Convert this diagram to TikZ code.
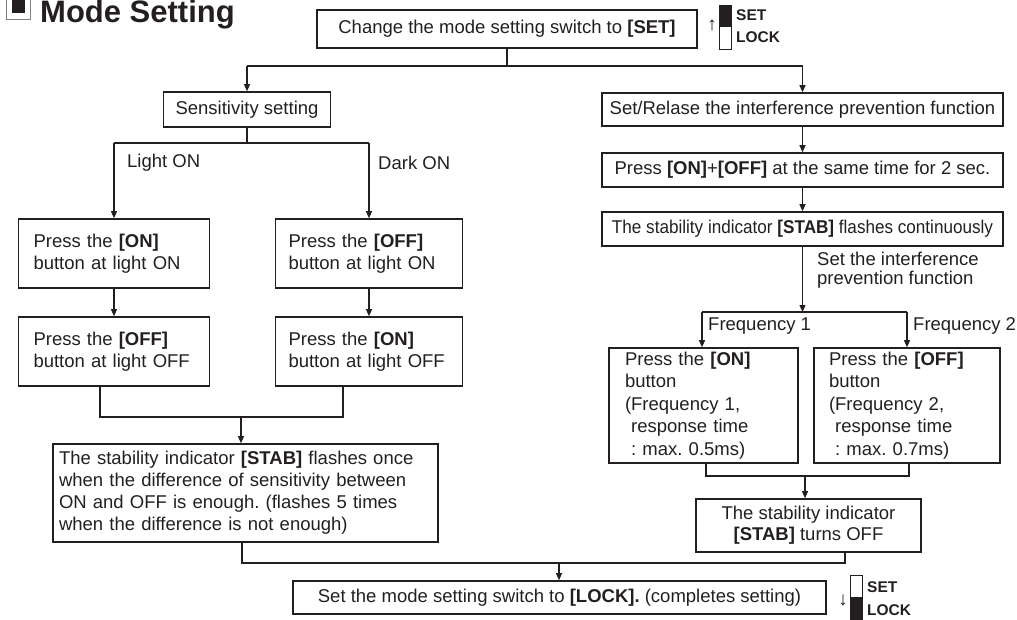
\documentclass[tikz,border=0pt]{standalone}
\usepackage{fontspec}
\setmainfont{Liberation Sans}
\usetikzlibrary{arrows.meta}
\definecolor{ink}{HTML}{231F20}
\newcommand\mainfs{\fontsize{18.5}{22.5}\selectfont\frenchspacing}
\begin{document}
\begin{tikzpicture}[x=1pt,y=-1pt,
  box/.style={draw=ink,line width=1.6pt,inner sep=0pt,font=\mainfs,text=ink,align=center},
  lbox/.style={draw=ink,line width=1.6pt,inner ysep=0pt,font=\mainfs,text=ink,align=left},
  lbl/.style={inner sep=0pt,anchor=west,font=\mainfs,text=ink},
  ln/.style={draw=ink,line width=1.1pt},
  arr/.style={draw=ink,line width=1.1pt,-{Triangle[length=7pt,width=6pt]}},
  sw/.style={inner sep=0pt,anchor=west,font=\bfseries\fontsize{15.5}{15.5}\selectfont,text=ink}]
\useasboundingbox (0,0) rectangle (1017,620);
\clip (0,0) rectangle (1017,620);

% title
\draw[draw=gray,line width=0.9pt] (6,-6) rectangle (30,19);
\fill[ink] (12,-1) rectangle (25,13);
\node[inner sep=0pt,anchor=base west,font=\bfseries\fontsize{31}{31}\selectfont,text=ink] (title) at (40,23) {Mode Setting};

% top switch
\node[box,minimum width=380pt,minimum height=38pt] (top) at (507,29) {Change the mode setting switch to \textbf{[SET]}};
\node[inner sep=0pt,font=\fontsize{19}{19}\selectfont,text=ink] (uparr) at (712,25) {↑};
\draw[ink,line width=0.9pt] (719,5) rectangle (731,49);
\fill[ink] (719,5) rectangle (731,27);
\node[sw] (set1) at (736,15) {SET};
\node[sw] (lock1) at (736,37) {LOCK};

% left branch
\node[box,minimum width=167pt,minimum height=35pt] (sens) at (247,109.5) {Sensitivity setting};
\node[lbl] (lighton) at (127,163) {Light ON};
\node[lbl] (darkon) at (378,163) {Dark ON};
\node[lbox,text width=161pt,inner xsep=15pt,minimum height=69pt] (lon1) at (114,253.5) {Press the \textbf{[ON]}\\button at light ON};
\node[lbox,text width=161pt,inner xsep=13pt,minimum height=69pt] (don1) at (369,253.5) {Press the \textbf{[OFF]}\\button at light ON};
\node[lbox,text width=161pt,inner xsep=15pt,minimum height=69pt] (lon2) at (114,351.5) {Press the \textbf{[OFF]}\\button at light OFF};
\node[lbox,text width=161pt,inner xsep=13pt,minimum height=69pt] (don2) at (369,351.5) {Press the \textbf{[ON]}\\button at light OFF};
\node[lbox,text width=373pt,inner xsep=6pt,minimum height=98pt,font=\fontsize{18.5}{22}\selectfont\frenchspacing] (stabL) at (245.5,493) {The stability indicator \textbf{[STAB]} flashes once\\when the difference of sensitivity between\\ON and OFF is enough. (flashes 5 times\\when the difference is not enough)};

% right branch
\node[box,minimum width=401pt,minimum height=33pt] (r1) at (802.5,109.5) {Set/Relase the interference prevention function};
\node[box,minimum width=401pt,minimum height=34pt] (r2) at (802.5,170) {Press \textbf{[ON]}+\textbf{[OFF]} at the same time for 2 sec.};
\node[box,minimum width=401pt,minimum height=34pt] (r3) at (802.5,229) {\scalebox{0.925}[1]{The stability indicator \textbf{[STAB]} flashes continuously}};
\node[lbl,align=left,font=\fontsize{18.5}{18.7}\selectfont] (setif) at (817,270) {Set the interference\\prevention function};
\node[lbl] (freq1) at (708,326) {Frequency 1};
\node[lbl] (freq2) at (913,326) {Frequency 2};
\node[lbox,text width=157pt,inner xsep=16pt,minimum height=115pt] (f1) at (703.5,405.5) {Press the \textbf{[ON]}\\button\\(Frequency 1,\\~response time\\~: max. 0.5ms)};
\node[lbox,text width=156pt,inner xsep=15pt,minimum height=115pt] (f2) at (907,405.5) {Press the \textbf{[OFF]}\\button\\(Frequency 2,\\~response time\\~: max. 0.7ms)};
\node[box,minimum width=225pt,minimum height=53pt,font=\fontsize{18.5}{21}\selectfont] (stabR) at (808.5,525.5) {The stability indicator\\\textbf{[STAB]} turns OFF};

% final
\node[box,minimum width=533pt,minimum height=33pt] (final) at (559.5,597.5) {Set the mode setting switch to \textbf{[LOCK].} (completes setting)};
\node[inner sep=0pt,font=\fontsize{19}{19}\selectfont,text=ink] (dnarr) at (843,600) {↓};
\draw[ink,line width=0.9pt] (850,575) rectangle (862,619);
\fill[ink] (850,597) rectangle (862,619);
\node[sw] (set2) at (867,587) {SET};
\node[sw] (lock2) at (867,610) {LOCK};

% junctions
\coordinate (jt) at (507,66);
\coordinate (jl) at (247,66);
\coordinate (jr) at (802.5,66);
\coordinate (js) at (247,143);
\coordinate (jsl) at (114,143);
\coordinate (jsr) at (369,143);
\coordinate (b1) at (100,417);
\coordinate (b2) at (343,417);
\coordinate (b3) at (241,417);
\coordinate (f0) at (802.5,312);
\coordinate (fl) at (702,312);
\coordinate (fr) at (907,312);
\coordinate (g1) at (706,476);
\coordinate (g2) at (909,476);
\coordinate (g0) at (805,476);
\coordinate (h1) at (242,563);
\coordinate (h2) at (845,563);
\coordinate (h0) at (559,563);

% connectors
\draw[ln] (top.south) -- (jt);
\draw[ln] (jl) -- (jr);
\draw[arr] (jl) -- (sens.north);
\draw[arr] (jr) -- (r1.north);
\draw[ln] (sens.south) -- (js);
\draw[ln] (jsl) -- (jsr);
\draw[arr] (jsl) -- (lon1.north);
\draw[arr] (jsr) -- (don1.north);
\draw[arr] (lon1.south) -- (lon2.north);
\draw[arr] (don1.south) -- (don2.north);
\draw[ln] (b1 |- lon2.south) -- (b1) -- (b2) -- (b2 |- don2.south);
\draw[arr] (b3) -- (b3 |- stabL.north);
\draw[arr] (r1.south) -- (r2.north);
\draw[arr] (r2.south) -- (r3.north);
\draw[arr] (r3.south) -- (f0);
\draw[ln] (fl) -- (fr);
\draw[arr] (fl) -- (fl |- f1.north);
\draw[arr] (fr) -- (fr |- f2.north);
\draw[ln] (g1 |- f1.south) -- (g1) -- (g2) -- (g2 |- f2.south);
\draw[arr] (g0) -- (g0 |- stabR.north);
\draw[ln] (h1 |- stabL.south) -- (h1) -- (h2) -- (h2 |- stabR.south);
\draw[arr] (h0) -- (h0 |- final.north);
\end{tikzpicture}
\end{document}
